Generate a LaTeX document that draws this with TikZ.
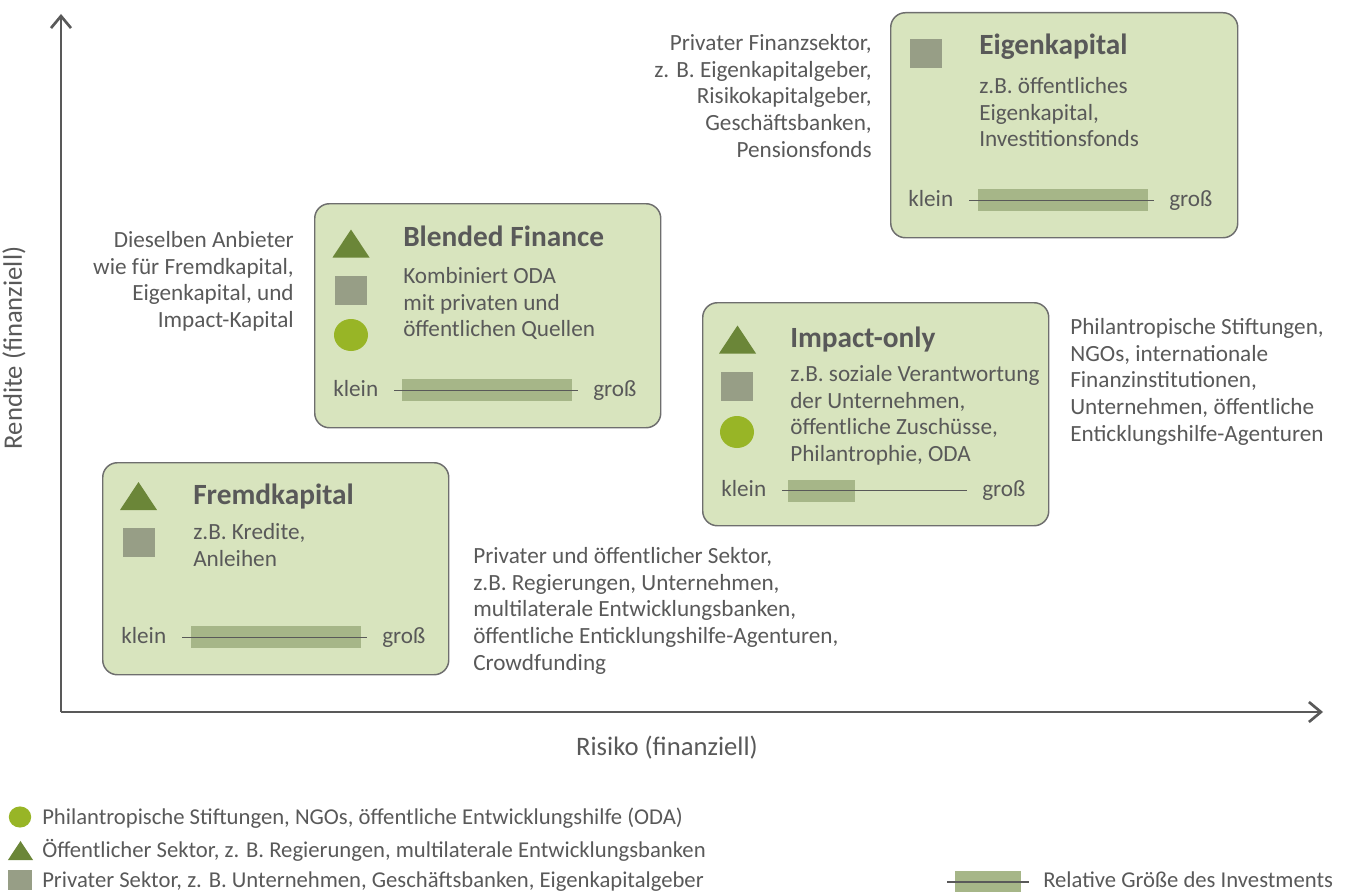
\documentclass[tikz,border=0pt]{standalone}
\usepackage{fontspec}
\setmainfont{Carlito}
\usetikzlibrary{arrows.meta}

\definecolor{txtgray}{HTML}{595959}
\definecolor{boxfill}{HTML}{D8E4BE}
\definecolor{boxline}{HTML}{6E6E6E}
\definecolor{trigreen}{HTML}{6B8638}
\definecolor{sqgray}{HTML}{979E86}
\definecolor{dotgreen}{HTML}{98B526}
\definecolor{barfill}{HTML}{A6B688}

\tikzset{
  tri/.pic={\fill[trigreen] (-18.5,14) -- (18.5,14) -- (0,-14) -- cycle;},
  sq/.pic={\fill[sqgray] (-16,-14.5) rectangle (16,14.5);},
  dot/.pic={\fill[dotgreen] (0,0) ellipse (17 and 16);}
}

\begin{document}
\begin{tikzpicture}[x=0.75pt,y=-0.75pt,
    txt/.style={text=txtgray,inner sep=0pt,font=\fontsize{17.4}{20}\selectfont},
    legtxt/.style={text=txtgray,inner sep=0pt,font=\fontsize{17}{20}\selectfont},
    axtxt/.style={text=txtgray,inner sep=0pt,font=\fontsize{20}{22}\selectfont},
    head/.style={text=txtgray,inner sep=0pt,font=\bfseries\fontsize{22}{24}\selectfont},
    scalelbl/.style={txt,text height=12pt,text depth=3.5pt},
    box/.style={draw=boxline,fill=boxfill,line width=1.1pt,rounded corners=11pt,
      anchor=north west,inner sep=0pt},
    scaleline/.style={draw=txtgray,line width=1.1pt},
    axis/.style={draw=txtgray,line width=2pt,-{Straight Barb[length=9pt,width=15pt]}}]
    \useasboundingbox (0,0) rectangle (1353,892);

    %% axes
    \coordinate (origin) at (61,712);
    \coordinate (ytop) at (61,14);
    \coordinate (xend) at (1323,712);
    \draw[axis] (origin) -- (ytop);
    \draw[axis] (origin) -- (xend);
    \node[axtxt,rotate=90] (rendite) at (14,348) {Rendite (finanziell)};
    \node[axtxt,anchor=base] (risiko) at (667,755) {Risiko (finanziell)};

    %% boxes
    \node[box,minimum width=260.25pt,minimum height=168.75pt] (eigen) at (890,12) {};
    \node[box,minimum width=259.5pt,minimum height=168pt] (blended) at (314,203) {};
    \node[box,minimum width=259.5pt,minimum height=167.25pt] (impact) at (702,302) {};
    \node[box,minimum width=259.5pt,minimum height=159pt] (fremd) at (102,462) {};

    %% Eigenkapital
    \pic at (926,54) {sq};
    \node[head,anchor=base west] (eigentitle) at (979,55) {Eigenkapital};
    \node[txt,anchor=north west,align=left] (eigentext) at (979,77)
      {z.B. öffentliches\\Eigenkapital,\\Investitionsfonds};
    \node[scalelbl,anchor=base west] (eklein) at (908,206) {klein};
    \node[scalelbl,anchor=base west] (egross) at (1169,206) {groß};
    \fill[barfill] (978,189) rectangle (1148,211);
    \draw[scaleline,shorten <=12pt,shorten >=11pt] (eklein.east) -- (egross.west);

    %% Blended Finance
    \pic at (351,243.5) {tri};
    \pic at (351,290.5) {sq};
    \pic at (351,335) {dot};
    \node[head,anchor=base west] (blendtitle) at (403,246) {Blended Finance};
    \node[txt,anchor=north west,align=left] (blendtext) at (403,267)
      {Kombiniert ODA\\mit privaten und\\öffentlichen Quellen};
    \node[scalelbl,anchor=base west] (bklein) at (333,396) {klein};
    \node[scalelbl,anchor=base west] (bgross) at (593,396) {groß};
    \fill[barfill] (402,379) rectangle (572,401);
    \draw[scaleline,shorten <=12pt,shorten >=11pt] (bklein.east) -- (bgross.west);

    %% Impact-only
    \pic at (737.5,339.5) {tri};
    \pic at (737,386.5) {sq};
    \pic at (737,432) {dot};
    \node[head,anchor=base west] (imptitle) at (790,347) {Impact-only};
    \node[txt,anchor=north west,align=left] (imptext) at (790,365)
      {z.B. soziale Verantwortung\\der Unternehmen,\\öffentliche Zuschüsse,\\Philantrophie, ODA};
    \node[scalelbl,anchor=base west] (iklein) at (721,496) {klein};
    \node[scalelbl,anchor=base west] (igross) at (982,496) {groß};
    \fill[barfill] (788,480) rectangle (855,502);
    \draw[scaleline,shorten <=12pt,shorten >=11pt] (iklein.east) -- (igross.west);

    %% Fremdkapital
    \pic at (138.5,496) {tri};
    \pic at (139,542.5) {sq};
    \node[head,anchor=base west] (fremdtitle) at (193,504) {Fremdkapital};
    \node[txt,anchor=north west,align=left] (fremdtext) at (193,523)
      {z.B. Kredite,\\Anleihen};
    \node[scalelbl,anchor=base west] (fklein) at (121,643) {klein};
    \node[scalelbl,anchor=base west] (fgross) at (382,643) {groß};
    \fill[barfill] (191,626) rectangle (361,648);
    \draw[scaleline,shorten <=12pt,shorten >=11pt] (fklein.east) -- (fgross.west);

    %% providers
    \node[txt,anchor=north east,align=right] (privfin) at (872,34)
      {Privater Finanzsektor,\\z. B. Eigenkapitalgeber,\\Risikokapitalgeber,\\Geschäftsbanken,\\Pensionsfonds};
    \node[txt,anchor=north east,align=right] (dieselben) at (294,231)
      {Dieselben Anbieter\\wie für Fremdkapital,\\Eigenkapital, und\\Impact-Kapital};
    \node[txt,anchor=north west,align=left] (philan) at (1070,318)
      {Philantropische Stiftungen,\\NGOs, internationale\\Finanzinstitutionen,\\Unternehmen, öffentliche\\Enticklungshilfe-Agenturen};
    \node[txt,anchor=north west,align=left] (privoef) at (473,547)
      {Privater und öffentlicher Sektor,\\z.B. Regierungen, Unternehmen,\\multilaterale Entwicklungsbanken,\\öffentliche Enticklungshilfe-Agenturen,\\Crowdfunding};

    %% legend
    \pic[scale=0.66] at (20,817) {dot};
    \pic[scale=0.68] at (20.5,850.5) {tri};
    \pic[scale=0.72] at (20,880) {sq};
    \node[legtxt,anchor=base west] (legdot) at (42,824) {Philantropische Stiftungen, NGOs, öffentliche Entwicklungshilfe (ODA)};
    \node[legtxt,anchor=base west] (legtri) at (42,857) {Öffentlicher Sektor, z. B. Regierungen, multilaterale Entwicklungsbanken};
    \node[legtxt,anchor=base west] (legsq) at (42,887) {Privater Sektor, z. B. Unternehmen, Geschäftsbanken, Eigenkapitalgeber};
    \fill[barfill] (955,871) rectangle (1021,892);
    \coordinate (legl) at (947,882);
    \coordinate (legr) at (1029,882);
    \draw[scaleline] (legl) -- (legr);
    \node[legtxt,anchor=base west] (legbar) at (1043,887) {Relative Größe des Investments};
\end{tikzpicture}
\end{document}
